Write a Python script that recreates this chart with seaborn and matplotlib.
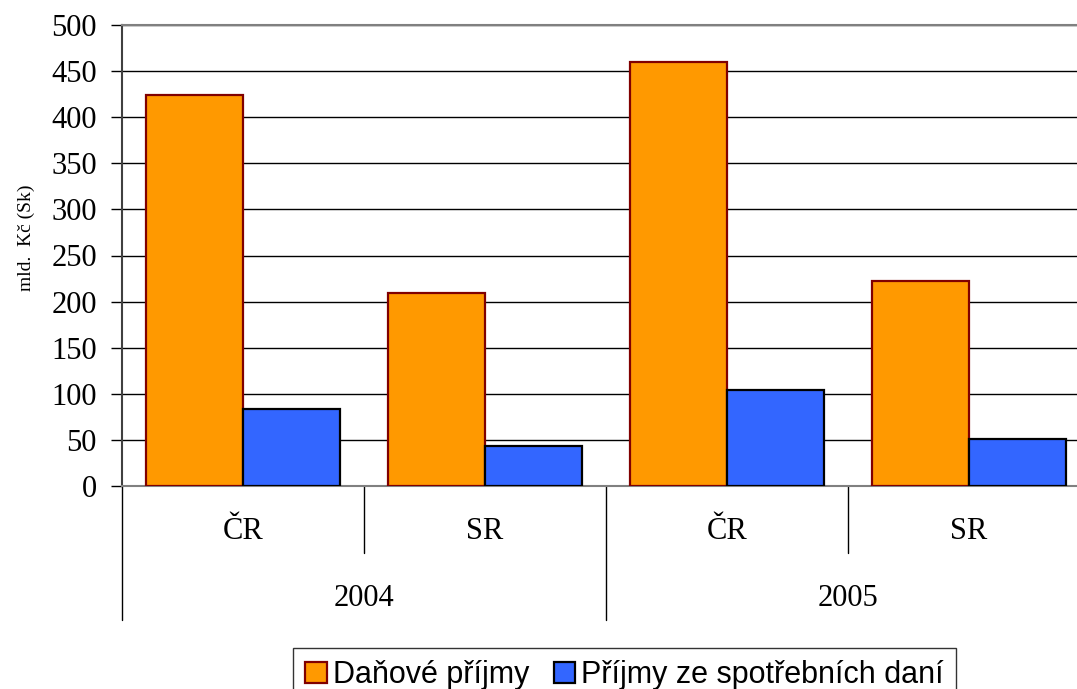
import pandas as pd
import seaborn as sns
import matplotlib.pyplot as plt
import matplotlib.transforms as mtransforms

##
# data

years = ['2004', '2005']
countries = ['ČR', 'SR']
series = ['Daňové příjmy', 'Příjmy ze spotřebních daní']
tax_income = [424, 209, 460, 222]
excise_income = [83, 43, 104, 51]
colors = ['#FF9900', '#3366FF']
edge_colors = ['#800000', '#000000']

keys = [c + ' ' + y for y in years for c in countries]
df = pd.DataFrame({
    'key': keys * 2,
    'value': tax_income + excise_income,
    'series': [series[0]] * 4 + [series[1]] * 4,
})

##
# plot

sns.set_theme(style='white')
plt.rcParams['font.family'] = ['Liberation Serif', 'DejaVu Serif']
plt.rcParams['text.color'] = 'black'
plt.rcParams['axes.labelcolor'] = 'black'
plt.rcParams['xtick.color'] = 'black'
plt.rcParams['ytick.color'] = 'black'

fig = plt.figure(figsize=(10.77, 6.89), dpi=100)
ax = fig.add_axes([122 / 1077, 1 - 486 / 689, 968 / 1077, 461 / 689])

sns.barplot(data=df, x='key', y='value', hue='series', order=keys,
            hue_order=series, palette=colors, saturation=1, width=0.8,
            linewidth=1.6, ax=ax, zorder=3)
for container, ec in zip(ax.containers, edge_colors):
    for patch in container.patches:
        patch.set_edgecolor(ec)
ax.get_legend().remove()

ax.set_ylim(0, 500)
ax.set_xlim(-0.5, 3.5)
ax.set_yticks(range(0, 501, 50))
ax.yaxis.grid(True, color='black', linewidth=1, zorder=0)
ax.set_axisbelow(True)
ax.tick_params(axis='y', labelsize=22, length=8, width=1, color='black',
               pad=10, left=True)
for side in ['top', 'right', 'bottom', 'left']:
    ax.spines[side].set_color('#808080')
    ax.spines[side].set_linewidth(1.5)
ax.spines['left'].set_color('#404040')

ax.set_ylabel('mld.  Kč (Sk)', fontsize=14)
ax.yaxis.set_label_coords(-0.09, 0.538)
ax.set_xlabel('')

# category labels and year labels below the axis
ax.set_xticks(range(len(keys)))
ax.set_xticklabels([k.split(' ')[0] for k in keys], fontsize=22)
ax.tick_params(axis='x', length=0, pad=22)

trans = mtransforms.blended_transform_factory(ax.transData, ax.transAxes)
for i, year in enumerate(years):
    ax.text(2 * i + 0.5, -0.243, year, transform=trans, ha='center',
            va='center', fontsize=22)
for x in [-0.5, 1.5, 3.5]:
    ax.plot([x, x], [0, -0.29], transform=trans, color='black',
            linewidth=1, clip_on=False)
for x in [0.5, 2.5]:
    ax.plot([x, x], [0, -0.145], transform=trans, color='black',
            linewidth=1, clip_on=False)

leg = fig.legend(ax.containers, series, loc='upper center',
                 bbox_to_anchor=(624.5 / 1077, 1 - 648 / 689), ncol=2,
                 frameon=True, fancybox=False, edgecolor='black',
                 prop={'family': 'Liberation Sans', 'size': 22},
                 handlelength=0.7, handleheight=0.7, handletextpad=0.2,
                 columnspacing=0.8, borderpad=0.4, borderaxespad=0)
leg.get_frame().set_linewidth(1)

fig.savefig('out.png', dpi=100)
